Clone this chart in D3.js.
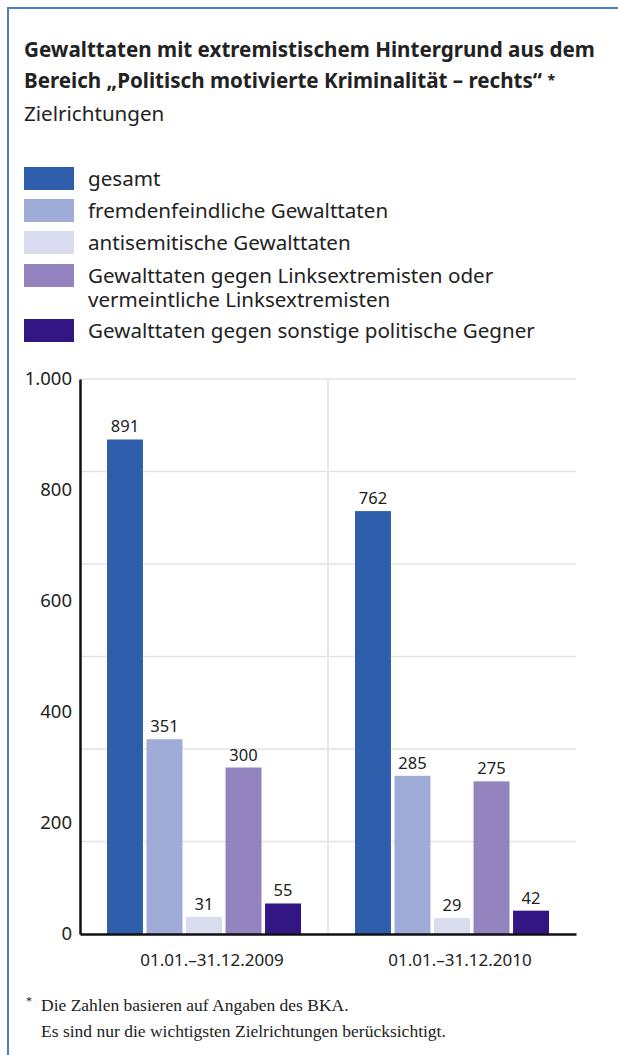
<!DOCTYPE html>
<html>
<head>
<meta charset="utf-8">
<script src="https://cdn.jsdelivr.net/npm/d3@7"></script>
<style>
  body { margin: 0; background: #fff; }
  text { fill: #222; }
</style>
</head>
<body>
<div id="chart"></div>
<script>
const categories = ["01.01.–31.12.2009", "01.01.–31.12.2010"]
const series = [
  "gesamt",
  "fremdenfeindliche Gewalttaten",
  "antisemitische Gewalttaten",
  "Gewalttaten gegen Linksextremisten oder vermeintliche Linksextremisten",
  "Gewalttaten gegen sonstige politische Gegner",
]
const legendLines = [
  ["gesamt"],
  ["fremdenfeindliche Gewalttaten"],
  ["antisemitische Gewalttaten"],
  ["Gewalttaten gegen Linksextremisten oder", "vermeintliche Linksextremisten"],
  ["Gewalttaten gegen sonstige politische Gegner"],
]
const values2009 = [891, 351, 31, 300, 55]
const values2010 = [762, 285, 29, 275, 42]
const yTicks = [0, 200, 400, 600, 800, 1000]
const colors = ["#2e5dab", "#a0acd8", "#dadcf0", "#9384c0", "#331584"]

const data = categories.map((c, i) => ({
  category: c,
  values: (i === 0 ? values2009 : values2010).map((v, j) => ({key: series[j], value: v, idx: j}))
}))

const W = 618, H = 1055
const font = "'Noto Sans', sans-serif"

const svg = d3.select("#chart")
  .append("svg")
    .attr("width", W)
    .attr("height", H)
    .style("font-family", font)

// frame
svg.append("path")
  .attr("d", `M8,${H} L8,8 L${W},8`)
  .attr("fill", "none")
  .attr("stroke", "#4a7cc9")
  .attr("stroke-width", 2)

// title
svg.append("text")
  .attr("x", 24).attr("y", 57)
  .attr("font-size", 20.6).attr("font-weight", "bold")
  .text("Gewalttaten mit extremistischem Hintergrund aus dem")

const t2 = svg.append("text")
  .attr("x", 24).attr("y", 88)
  .attr("font-size", 20.6).attr("font-weight", "bold")
t2.append("tspan").text("Bereich „Politisch motivierte Kriminalität – rechts“ ")
t2.append("tspan").attr("font-size", 14).attr("dy", -3).text("*")

svg.append("text")
  .attr("x", 24).attr("y", 121)
  .attr("font-size", 20.6)
  .text("Zielrichtungen")

// legend
const legendTop = [167, 199, 231, 264, 319]
const legend = svg.selectAll("g.legend")
  .data(legendLines)
  .enter()
  .append("g")
  .classed("legend", true)
  .attr("transform", (d, i) => `translate(24,${legendTop[i]})`)

legend.append("rect")
  .attr("width", 50)
  .attr("height", 23)
  .attr("fill", (d, i) => colors[i])

legend.append("text")
  .attr("x", 64)
  .attr("y", 19)
  .attr("font-size", 20.6)
  .selectAll("tspan")
  .data(d => d)
  .enter()
  .append("tspan")
  .attr("x", 64)
  .attr("dy", (d, i) => i === 0 ? 0 : 24)
  .text(d => d)

// scales
const plot = {left: 80, right: 576, top: 379, bottom: 934}

const y = d3.scaleLinear()
  .domain([0, 1000])
  .range([plot.bottom, plot.top])

const x0 = d3.scaleBand()
  .domain(categories)
  .range([plot.left, plot.right])

const x1 = d3.scaleBand()
  .domain(series)
  .range([27, x0.bandwidth() - 27])
  .paddingInner(0.09)

// gridlines
const gridValues = d3.range(7).map(i => i * 1000 / 6)
svg.append("g")
  .selectAll("line")
  .data(gridValues.slice(1))
  .enter()
  .append("line")
  .attr("x1", plot.left).attr("x2", plot.right)
  .attr("y1", d => y(d)).attr("y2", d => y(d))
  .attr("stroke", "#e2e2e2")
  .attr("stroke-width", 1.5)

svg.append("line")
  .attr("x1", x0(categories[1])).attr("x2", x0(categories[1]))
  .attr("y1", plot.top).attr("y2", plot.bottom)
  .attr("stroke", "#e2e2e2")
  .attr("stroke-width", 1.5)

// bars
const groups = svg.selectAll("g.group")
  .data(data)
  .enter()
  .append("g")
  .classed("group", true)
  .attr("transform", d => `translate(${x0(d.category)},0)`)

groups.selectAll("rect")
  .data(d => d.values)
  .enter()
  .append("rect")
  .attr("x", d => x1(d.key))
  .attr("width", x1.bandwidth())
  .attr("y", d => y(d.value))
  .attr("height", d => y(0) - y(d.value))
  .attr("fill", d => colors[d.idx])

groups.selectAll("text.value")
  .data(d => d.values)
  .enter()
  .append("text")
  .classed("value", true)
  .attr("x", d => x1(d.key) + x1.bandwidth() / 2)
  .attr("y", d => y(d.value) - 7)
  .attr("text-anchor", "middle")
  .attr("font-size", 16.5)
  .text(d => d.value)

// axes
const fmt = d => d === 1000 ? "1.000" : String(d)
const yAxis = svg.append("g")
  .attr("transform", `translate(${plot.left},0)`)
  .call(d3.axisLeft(y).tickValues(yTicks).tickSize(0).tickPadding(8).tickFormat(fmt))
yAxis.select(".domain").attr("stroke", "#111").attr("stroke-width", 2.5)
yAxis.selectAll("text").attr("font-size", 18.5).attr("fill", "#222").attr("font-family", font)

const xAxis = svg.append("g")
  .attr("transform", `translate(0,${plot.bottom})`)
  .call(d3.axisBottom(x0).tickSize(0).tickPadding(20))
xAxis.select(".domain").attr("stroke", "#111").attr("stroke-width", 2.5)
xAxis.selectAll("text").attr("font-size", 17).attr("fill", "#222").attr("font-family", font)
  .attr("dx", 8)

// footnote
const serif = "'Liberation Serif', 'DejaVu Serif', serif"
svg.append("text")
  .attr("x", 26).attr("y", 1005)
  .attr("font-size", 12).attr("font-family", serif)
  .text("*")
svg.append("text")
  .attr("x", 41).attr("y", 1011)
  .attr("font-size", 17.5).attr("font-family", serif)
  .text("Die Zahlen basieren auf Angaben des BKA.")
svg.append("text")
  .attr("x", 41).attr("y", 1037)
  .attr("font-size", 17.5).attr("font-family", serif)
  .text("Es sind nur die wichtigsten Zielrichtungen berücksichtigt.")
</script>
</body>
</html>
